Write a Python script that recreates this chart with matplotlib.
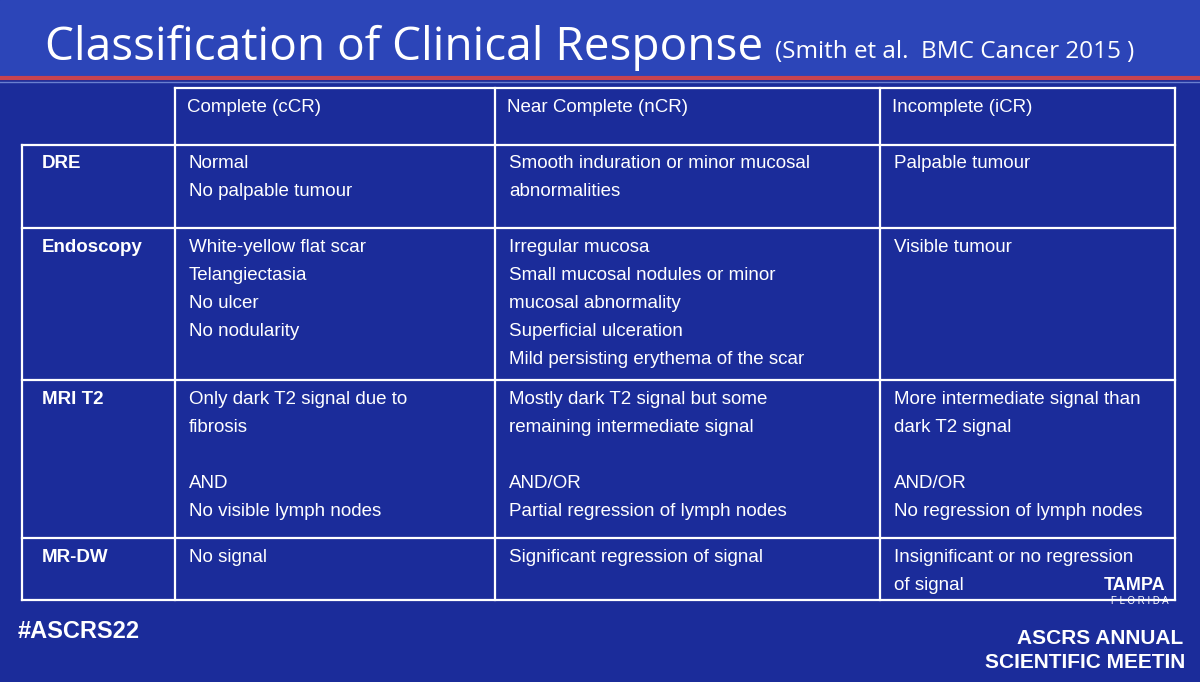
import matplotlib
matplotlib.use("Agg")
import matplotlib.pyplot as plt
from matplotlib.patches import Rectangle

title = "Classification of Clinical Response"
citation = "(Smith et al.  BMC Cancer 2015 )"
columns = ["Complete (cCR)", "Near Complete (nCR)", "Incomplete (iCR)"]
rows = ["DRE", "Endoscopy", "MRI T2", "MR-DW"]
complete = [
    ["Normal", "No palpable tumour"],
    ["White-yellow flat scar", "Telangiectasia", "No ulcer", "No nodularity"],
    ["Only dark T2 signal due to", "fibrosis", "", "AND", "No visible lymph nodes"],
    ["No signal"],
]
near = [
    ["Smooth induration or minor mucosal", "abnormalities"],
    ["Irregular mucosa", "Small mucosal nodules or minor", "mucosal abnormality",
     "Superficial ulceration", "Mild persisting erythema of the scar"],
    ["Mostly dark T2 signal but some", "remaining intermediate signal", "", "AND/OR",
     "Partial regression of lymph nodes"],
    ["Significant regression of signal"],
]
incomplete = [
    ["Palpable tumour"],
    ["Visible tumour"],
    ["More intermediate signal than", "dark T2 signal", "", "AND/OR",
     "No regression of lymph nodes"],
    ["Insignificant or no regression", "of signal"],
]

W, H = 1200, 682
fig = plt.figure(figsize=(12, 6.82), dpi=100)
ax = fig.add_axes([0, 0, 1, 1])
ax.set_xlim(0, W); ax.set_ylim(H, 0); ax.axis("off")
fig.patch.set_facecolor("#1b2c9a")
ax.add_patch(Rectangle((0, 0), W, H, color="#1b2c9a", zorder=0))
ax.add_patch(Rectangle((0, 0), W, 76, color="#2c45b8", zorder=0))
ax.plot([0, W], [78, 78], color="#c8434f", lw=3)
ax.plot([0, W], [82, 82], color="#6a7fd0", lw=1)

font = "Liberation Sans"
ax.text(45, 48, title, color="white", fontsize=33, fontfamily="Open Sans", va="center")
ax.text(775, 52, citation, color="white", fontsize=17.5, fontfamily="Open Sans", va="center")

xs = [22, 175, 495, 880, 1175]
ys = [88, 145, 228, 380, 538, 600]
lc = "white"; lw = 1.6
ax.plot([xs[1], xs[4]], [ys[0], ys[0]], color=lc, lw=lw)
for y in ys[1:]:
    ax.plot([xs[0], xs[4]], [y, y], color=lc, lw=lw)
ax.plot([xs[0], xs[0]], [ys[1], ys[-1]], color=lc, lw=lw)
for x in xs[1:]:
    ax.plot([x, x], [ys[0], ys[-1]], color=lc, lw=lw)

fs = 13.5
for j, c in enumerate(columns):
    ax.text(xs[j + 1] + 12, 108, c, color="white", fontsize=fs, fontfamily=font, va="center")
line_h = 28
for i, r in enumerate(rows):
    y0 = ys[i + 1] + 19
    ax.text(xs[0] + 20, y0, r, color="white", fontsize=fs, fontweight="bold",
            fontfamily=font, va="center")
    for j, col in enumerate([complete, near, incomplete]):
        for k, line in enumerate(col[i]):
            ax.text(xs[j + 1] + 14, y0 + k * line_h, line, color="white", fontsize=fs,
                    fontfamily=font, va="center")

ax.text(18, 632, "#ASCRS22", color="white", fontsize=17, fontweight="bold",
        fontfamily=font, va="center")
ax.text(1135, 586, "TAMPA", color="white", fontsize=13, fontweight="bold",
        fontfamily=font, va="center", ha="center")
ax.text(1140, 601, "F L O R I D A", color="white", fontsize=7, fontfamily=font,
        va="center", ha="center")
ax.text(1100, 638, "ASCRS ANNUAL", color="white", fontsize=15, fontweight="bold",
        fontfamily=font, va="center", ha="center")
ax.text(985, 662, "SCIENTIFIC MEETIN", color="white", fontsize=15, fontweight="bold",
        fontfamily=font, va="center", ha="left")
fig.savefig("out.png", dpi=100, facecolor=fig.get_facecolor())
